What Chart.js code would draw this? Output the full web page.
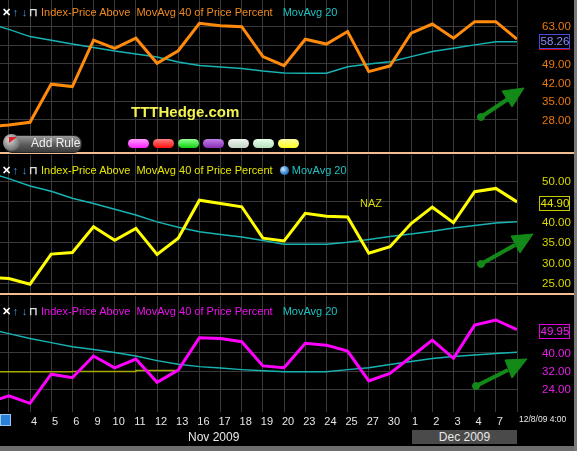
<!DOCTYPE html>
<html>
<head>
<meta charset="utf-8">
<script src="https://cdn.jsdelivr.net/npm/chart.js@4.4.1/dist/chart.umd.min.js"></script>
<style>
  html, body { margin: 0; padding: 0; background: #000; }
  #wrap { position: relative; width: 577px; height: 451px; background: #000; overflow: hidden;
          font-family: 'Liberation Sans', Arial, sans-serif; }
  .panel { position: absolute; left: 0; width: 577px; }
  .panel canvas { display: block; }
  .sep { position: absolute; left: 0; width: 577px; height: 2px; background: #f3bd92; }
  .title { position: absolute; left: 2px; font-size: 11px; white-space: nowrap; line-height: 12px; }
  .ico { display: inline-block; width: 9px; text-align: center; font-weight: bold; }
  .txt { position: absolute; white-space: nowrap; }
  .pill { position: absolute; top: 139px; width: 21px; height: 9px; border-radius: 5px; }
</style>
</head>
<body>
<div id="wrap">
  <div class="panel" style="top:0;height:152px"><canvas id="topChart" width="577" height="152"></canvas></div>
  <div class="panel" style="top:155px;height:138px"><canvas id="midChart" width="577" height="138"></canvas></div>
  <div class="panel" style="top:296px;height:155px"><canvas id="botChart" width="577" height="155"></canvas></div>

  <div class="sep" style="top:152px"></div>
  <div class="sep" style="top:293px"></div>

  <!-- заголовки панелей -->
  <div class="title" style="top:6px">
    <span class="ico" style="color:#fff">✕</span><span class="ico" style="color:#3a9cf0">↑</span><span class="ico" style="color:#3a9cf0">↓</span><span class="ico" style="color:#ddd">⊓</span>
    <span style="color:#f08a1c">Index-Price Above&nbsp; MovAvg 40 of Price Percent</span>
    <span style="color:#1ec0c0;margin-left:7px">MovAvg 20</span>
  </div>
  <div class="title" style="top:164px">
    <span class="ico" style="color:#fff">✕</span><span class="ico" style="color:#3a9cf0">↑</span><span class="ico" style="color:#3a9cf0">↓</span><span class="ico" style="color:#ddd">⊓</span>
    <span style="color:#e6e600">Index-Price Above&nbsp; MovAvg 40 of Price Percent</span>
    <span style="display:inline-block;width:9px;height:9px;border-radius:50%;margin-left:4px;vertical-align:-1px;background:radial-gradient(circle at 35% 35%,#cfe8ff,#2f7fd0 60%,#1a4f90)"></span>
    <span style="color:#1ec0c0">MovAvg 20</span>
  </div>
  <div class="title" style="top:305px">
    <span class="ico" style="color:#fff">✕</span><span class="ico" style="color:#3a9cf0">↑</span><span class="ico" style="color:#3a9cf0">↓</span><span class="ico" style="color:#ddd">⊓</span>
    <span style="color:#ee10ee">Index-Price Above&nbsp; MovAvg 40 of Price Percent</span>
    <span style="color:#1ec0c0;margin-left:7px">MovAvg 20</span>
  </div>

  <div class="txt" style="left:131px;top:103px;font-size:15px;font-weight:bold;color:#f2f250">TTTHedge.com</div>
  <div class="txt" style="left:360px;top:197px;font-size:11px;color:#d8d800">NAZ</div>

  <!-- кнопка Add Rule и цветные метки -->
  <div style="position:absolute;left:4px;top:135px;width:76px;height:16px;border-radius:8px;border:1px solid #222;
              background:linear-gradient(#9a9a9a,#5a5a5a 55%,#3c3c3c)"></div>
  <div style="position:absolute;left:3px;top:134px;width:17px;height:17px;border-radius:50%;
              background:radial-gradient(circle at 40% 35%,#d8d8d8,#707070 70%,#404040)"></div>
  <div style="position:absolute;left:9px;top:137px;width:0;height:0;border-left:8px solid #e02020;border-bottom:6px solid transparent"></div>
  <div class="txt" style="left:31px;top:136px;font-size:12px;color:#f0f0f0">Add Rule</div>
  <div class="pill" style="left:128px;background:linear-gradient(#ff9cff,#ff20ff)"></div>
  <div class="pill" style="left:153px;background:linear-gradient(#ff8080,#ff1010)"></div>
  <div class="pill" style="left:178px;background:linear-gradient(#90ff90,#10d010)"></div>
  <div class="pill" style="left:203px;background:linear-gradient(#c080e8,#8a2cb8)"></div>
  <div class="pill" style="left:228px;background:linear-gradient(#f0f4f0,#c4d4c4)"></div>
  <div class="pill" style="left:253px;background:linear-gradient(#eaffea,#b4e0bc)"></div>
  <div class="pill" style="left:278px;background:linear-gradient(#ffffa0,#ffff20)"></div>

  <!-- подписи оси времени -->
  <div class="txt" style="left:0;top:414px;width:9px;height:10px;background:#2a7fd8;border:1px solid #9cc8f0"></div>
  <div class="txt" style="left:519px;top:414px;font-size:8.5px;color:#e8e8e8">12/8/09 4:00</div>
  <div class="txt" style="left:188px;top:430px;font-size:12px;color:#e8e8e8">Nov 2009</div>
  <div class="txt" style="left:412px;top:430px;width:105px;height:14px;background:#4a4a4a;color:#e8e8e8;font-size:12px;text-align:center;line-height:14px">Dec 2009</div>
  <div style="position:absolute;left:0;top:446px;width:577px;height:5px;background:#6e6e6e"></div>
  <div style="position:absolute;left:574px;top:0;width:3px;height:451px;background:#7a7a7a"></div>

  <!-- зелёные стрелки -->
  <svg width="577" height="451" style="position:absolute;left:0;top:0;pointer-events:none">
    <g fill="#138a17" stroke="#138a17">
      <circle cx="481" cy="117" r="3.5"/>
      <line x1="481" y1="117" x2="508" y2="99" stroke-width="4"/>
      <polygon points="524,88 502,91 512,107"/>
      <circle cx="481" cy="264" r="3.5"/>
      <line x1="481" y1="264" x2="515" y2="245" stroke-width="4"/>
      <polygon points="533,234 511,236 520,253"/>
      <circle cx="476" cy="386" r="3.5"/>
      <line x1="476" y1="386" x2="508" y2="370" stroke-width="4"/>
      <polygon points="527,359 505,360 512,378"/>
    </g>
  </svg>
</div>

<script>
// ── Данные (индекс 0 = 2 ноя, 25 = 8 дек)
const X_LABELS = ['2', '3', '4', '5', '6', '9', '10', '11', '12', '13', '16', '17', '18', '19',
                  '20', '23', '24', '25', '27', '30', '1', '2', '3', '4', '7', '8'];
const HIDDEN_X = [0, 1, 25];

const TOP_PRICE = [25.4, 26.1, 27.1, 41.4, 40.5, 57.9, 54.8, 58.6, 49.2, 53.9, 64.2, 63.3, 62.9,
                   51.7, 48.3, 58.2, 56.4, 61.1, 46.1, 48.2, 60.5, 63.9, 58.6, 64.8, 64.8, 58.26];
const TOP_MA20  = [64.3, 61.9, 59.2, 57.8, 56.4, 55.1, 53.8, 52.7, 51.6, 49.7, 48.4, 47.8, 47.3,
                   46.3, 45.6, 45.5, 45.5, 47.9, 48.9, 49.8, 51.7, 53.6, 54.8, 56.1, 57.3, 57.3];
const TOP_TICKS = [28, 35, 42, 49, 56, 63];

const MID_PRICE = [26.4, 26.1, 24.7, 32.1, 32.5, 38.8, 35.5, 38.4, 32.0, 36.0, 45.3, 44.5, 43.7,
                   36.0, 35.3, 42.1, 41.4, 41.2, 32.3, 33.9, 39.6, 43.6, 39.8, 47.4, 48.2, 44.90];
const MID_MA20  = [52.2, 50.6, 48.8, 47.5, 45.8, 44.5, 43.1, 41.7, 40.0, 38.7, 37.6, 36.9, 36.3,
                   35.4, 34.5, 34.5, 34.5, 35.0, 35.7, 36.4, 37.0, 37.7, 38.5, 39.1, 39.7, 40.0];
const MID_TICKS = [25, 30, 35, 40, 45, 50];

const BOT_PRICE = [18.3, 21.2, 18.0, 30.6, 29.1, 38.5, 33.4, 37.2, 27.1, 32.4, 46.4, 46.1, 44.7,
                   34.2, 33.4, 44.0, 43.2, 40.6, 27.7, 31.0, 38.2, 45.4, 37.5, 51.9, 54.1, 49.95];
const BOT_MA20  = [50.4, 48.2, 46.1, 44.3, 42.5, 41.3, 40.0, 38.5, 36.5, 34.9, 33.9, 33.3, 32.6,
                   32.1, 31.7, 31.7, 31.7, 32.6, 33.4, 34.8, 36.1, 37.4, 38.3, 38.9, 39.6, 40.1];
const BOT_LEVEL_X = [0, 4, 7, 9];
const BOT_LEVEL_Y = [31.7, 31.8, 32.2, 32.4];
const BOT_TICKS = [24, 32, 40, 48];

const GRID = '#3a3a3a';
const MA_COLOR = '#17b3b3';
const AXIS_FONT = '11.5px "Liberation Sans", Arial';

const toPoints = (arr) => arr.map((y, i) => ({ x: i, y }));

// Подписи правой оси + рамка с последним значением.
// Рисуем сами: встроенные подписи Chart.js добавляют отступы и сжимают шкалу.
function rightAxisPlugin(cfg) {
    return {
        id: 'rightAxis',
        afterDraw(chart) {
            const ctx   = chart.ctx;
            const scale = chart.scales.y;
            const xText = chart.chartArea.right + 25;
            ctx.save();
            ctx.font = AXIS_FONT;
            ctx.textBaseline = 'middle';
            ctx.textAlign = 'left';
            ctx.fillStyle = cfg.tickColor;
            cfg.ticks.forEach((v) => {
                if (v === cfg.hideTick) return;
                ctx.fillText(v.toFixed(2), xText, Math.round(scale.getPixelForValue(v)) + 1);
            });

            const ds   = chart.data.datasets[0].data;
            const last = ds[ds.length - 1].y;
            const y    = Math.round(scale.getPixelForValue(last) + 1.5);
            ctx.fillStyle = '#000';
            ctx.fillRect(539, y - 7, 31, 14);
            ctx.strokeStyle = cfg.boxColor;
            ctx.lineWidth = 1;
            ctx.strokeRect(539.5, y - 6.5, 30, 14);
            if (cfg.underline) {
                ctx.strokeStyle = cfg.underline;
                ctx.beginPath();
                ctx.moveTo(539, y + 8.5);
                ctx.lineTo(570, y + 8.5);
                ctx.stroke();
            }
            ctx.fillStyle = cfg.boxText;
            ctx.textAlign = 'center';
            ctx.fillText(last.toFixed(2), 555, y + 1);
            ctx.restore();
        }
    };
}

function buildPanel(id, cfg) {
    const datasets = [
        { data: toPoints(cfg.price), borderColor: cfg.color, borderWidth: 3, pointRadius: 0, tension: 0, order: 1 },
        { data: toPoints(cfg.ma), borderColor: MA_COLOR, borderWidth: 1.5, pointRadius: 0, tension: 0, order: 2 }
    ];
    if (cfg.extra) datasets.push(cfg.extra);

    return new Chart(document.getElementById(id).getContext('2d'), {
        type: 'line',
        data: { datasets },
        plugins: [rightAxisPlugin(cfg)],
        options: {
            responsive: false,
            animation: false,
            layout: { padding: 0 },
            plugins: { legend: { display: false }, tooltip: { enabled: false } },
            scales: {
                x: {
                    type: 'linear',
                    min: 0.583,
                    max: 25,
                    border: { display: false },
                    grid: { color: GRID, drawTicks: !!cfg.showX, tickLength: 3, tickColor: 'rgba(0,0,0,0)' },
                    afterFit: (s) => { s.height = cfg.showX ? 39 : 0; },
                    ticks: {
                        display: !!cfg.showX,
                        stepSize: 1,
                        includeBounds: false,
                        autoSkip: false,
                        maxRotation: 0,
                        padding: 0,
                        labelOffset: 4,
                        color: '#e6e6e6',
                        font: { family: 'Liberation Sans', size: 11 },
                        callback: (v) => (Number.isInteger(v) && !HIDDEN_X.includes(v)) ? X_LABELS[v] : ''
                    }
                },
                y: {
                    position: 'right',
                    min: cfg.min,
                    max: cfg.max,
                    border: { display: false },
                    grid: { color: GRID, drawTicks: false },
                    afterFit: (s) => { s.width = 60; },
                    afterBuildTicks: (s) => { s.ticks = cfg.ticks.map((v) => ({ value: v })); },
                    ticks: { display: false }
                }
            }
        }
    });
}

buildPanel('topChart', {
    price: TOP_PRICE, ma: TOP_MA20, color: '#ff8a0c',
    min: 16.0, max: 72.9, ticks: TOP_TICKS, hideTick: 56, tickColor: '#e8780e',
    boxColor: '#4a4ad8', boxText: '#8c8cff', underline: '#d00000'
});

buildPanel('midChart', {
    price: MID_PRICE, ma: MID_MA20, color: '#ffff00',
    min: 22.55, max: 56.4, ticks: MID_TICKS, hideTick: 45, tickColor: '#d8d800',
    boxColor: '#c8c800', boxText: '#e6e600'
});

buildPanel('botChart', {
    price: BOT_PRICE, ma: BOT_MA20, color: '#ff00ff',
    min: 14.24, max: 64.5, ticks: BOT_TICKS, hideTick: 48, tickColor: '#e81ee8',
    boxColor: '#e000e0', boxText: '#f020f0', showX: true,
    extra: {
        data: BOT_LEVEL_X.map((x, i) => ({ x, y: BOT_LEVEL_Y[i] })),
        borderColor: '#a8a800', borderWidth: 1.5, pointRadius: 0, stepped: true, order: 3
    }
});
</script>
</body>
</html>
